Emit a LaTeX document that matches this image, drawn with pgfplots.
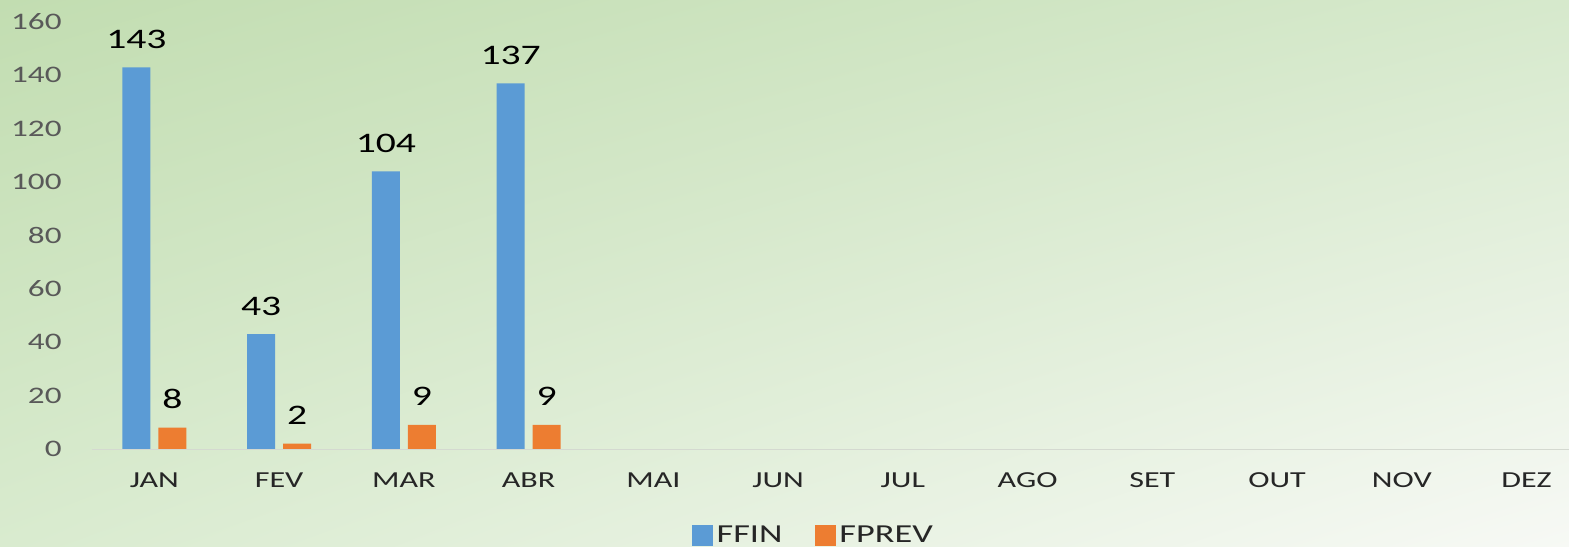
\documentclass[border=0pt]{standalone}
\usepackage{pgfplots}
\pgfplotsset{compat=1.18}
\usepackage{fontspec}
\setmainfont[FakeStretch=1.4]{Carlito}
\usetikzlibrary{shadings}
\definecolor{ffin}{HTML}{5B9BD5}
\definecolor{fprev}{HTML}{ED7D31}
\definecolor{tickgray}{HTML}{595959}
\definecolor{labgray}{HTML}{262626}
\definecolor{basegray}{HTML}{D4D9D0}
\definecolor{bgTL}{HTML}{C2DDB1}
\definecolor{bgTR}{HTML}{D6E9CC}
\definecolor{bgBL}{HTML}{D9EBCF}
\definecolor{bgBR}{HTML}{F7F9F5}
\begin{document}
\begin{tikzpicture}
\useasboundingbox (0,0) rectangle (784.5bp,273.5bp);
\shade[upper left=bgTL, upper right=bgTR, lower left=bgBL, lower right=bgBR] (0,0) rectangle (784.5bp,273.5bp);
\begin{scope}
\clip (0,0) rectangle (784.5bp,273.5bp);
\begin{axis}[
  at={(46bp,49bp)}, anchor=south west,
  scale only axis, width=738.5bp, height=213.5bp,
  xmin=-0.5, xmax=11.34, ymin=0, ymax=160,
  axis lines*=left,
  x axis line style={draw=basegray, -},
  y axis line style={draw=none},
  major tick length=0pt,
  tick style={draw=none},
  xtick={0,...,11},
  xticklabels={JAN,FEV,MAR,ABR,MAI,JUN,JUL,AGO,SET,OUT,NOV,DEZ},
  ytick={0,20,...,160},
  /pgf/number format/assume math mode=true,
  yticklabel style={font=\fontsize{11.9}{12}\selectfont, text=tickgray, anchor=east, inner sep=0pt, xshift=-15bp},
  xticklabel style={font=\fontsize{11.5}{12}\selectfont, text=labgray, anchor=base, inner sep=0pt, yshift=-19bp},
  ybar, bar width=14bp, ybar=4bp,
  nodes near coords,
  every node near coord/.append style={font=\fontsize{14.2}{15}\selectfont, text=black, anchor=base, inner sep=0pt, yshift=9.5bp},
  legend columns=2,
  legend style={at={(0.489,-0.203)}, anchor=center, draw=none, fill=none,
    font=\fontsize{13}{14}\selectfont, text=labgray, inner sep=1bp,
    /tikz/every even column/.append style={column sep=14bp}},
  legend image code/.code={\fill[#1, draw=none] (0bp,-5.25bp) rectangle (10.5bp,5.25bp);},
]
\addplot[fill=ffin, draw=none] coordinates {(0,143) (1,43) (2,104) (3,137)};
\addplot[fill=fprev, draw=none] coordinates {(0,8) (1,2) (2,9) (3,9)};
\legend{FFIN, FPREV}
\end{axis}
\end{scope}
\end{tikzpicture}
\end{document}
